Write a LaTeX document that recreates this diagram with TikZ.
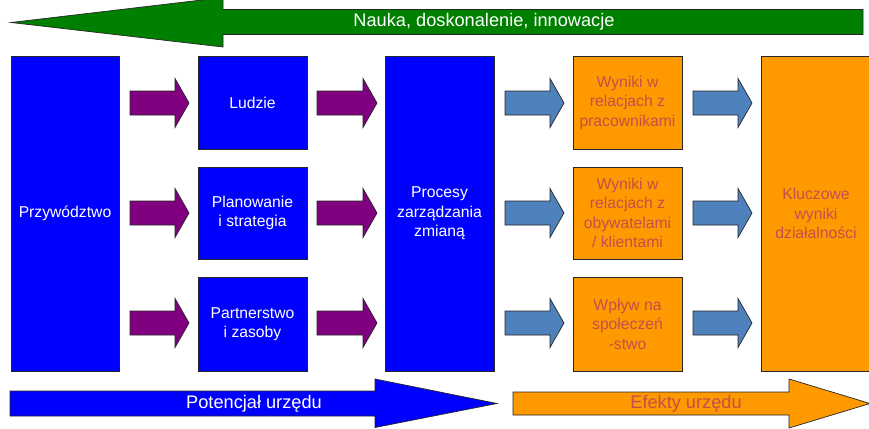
\documentclass[tikz,border=0pt]{standalone}
\usepackage{fontspec}
\setmainfont{Liberation Sans}
\definecolor{cblue}{RGB}{0,0,255}
\definecolor{cpurple}{RGB}{128,0,128}
\definecolor{csteel}{RGB}{79,129,189}
\definecolor{corange}{RGB}{255,153,0}
\definecolor{cgreen}{RGB}{0,128,0}
\definecolor{ctext}{RGB}{192,80,77}
\tikzset{
  bluebox/.style={draw=black!85, line width=0.8pt, fill=cblue, text=white, align=center, inner sep=0pt,
    font=\fontsize{15.7}{19.5}\selectfont},
  orangebox/.style={draw=black!85, line width=0.8pt, fill=corange, text=ctext, align=center, inner sep=0pt,
    font=\fontsize{15.7}{19.5}\selectfont},
  barlabel/.style={inner sep=0pt, font=\fontsize{18.2}{20}\selectfont},
  fat/.style={draw=black!85, line width=0.7pt, line join=miter},
}
% fat arrow: style, x start, x end, y centre
\newcommand\fatarrow[4]{%
  \draw[fat,#1] (#2,#4-12) -- (#3-14,#4-12) -- (#3-14,#4-24.5) -- (#3,#4) --
    (#3-14,#4+24.5) -- (#3-14,#4+12) -- (#2,#4+12) -- cycle;}
\begin{document}
\begin{tikzpicture}[x=1pt,y=-1pt]
\useasboundingbox (0,0) rectangle (869,428);
\clip (0,0) rectangle (869,428);
\fill[white] (0,0) rectangle (869,428);

% top green arrow
\draw[fat, fill=cgreen] (863,9.5) -- (223,9.5) -- (223,-2.5) -- (11,22.5) -- (223,47) -- (223,34.5) -- (863,34.5) -- cycle;
\node[barlabel, text=white] (nauka) at (484,22) {Nauka, doskonalenie, innowacje};

% boxes
\node[bluebox, minimum width=108pt, minimum height=315pt] (przyw) at (65,213.5) {Przywództwo};
\node[bluebox, minimum width=109pt, minimum height=93pt] (ludzie) at (252.5,102.5) {Ludzie};
\node[bluebox, minimum width=109pt, minimum height=92pt] (plan) at (252.5,213) {Planowanie\\i strategia};
\node[bluebox, minimum width=109pt, minimum height=94pt] (partner) at (252.5,324) {Partnerstwo\\i zasoby};
\node[bluebox, minimum width=109pt, minimum height=315pt] (procesy) at (439.5,213.5) {Procesy\\zarządzania\\zmianą};
\node[orangebox, minimum width=109pt, minimum height=93pt] (wyn1) at (627.5,102.5) {Wyniki w\\relacjach z\\pracownikami};
\node[orangebox, minimum width=109pt, minimum height=92pt] (wyn2) at (627.5,213) {Wyniki w\\relacjach z\\obywatelami\\/ klientami};
\node[orangebox, minimum width=109pt, minimum height=94pt] (wplyw) at (627.5,324) {Wpływ na\\społeczeń\\-stwo};
\node[orangebox, minimum width=110pt, minimum height=315pt] (klucz) at (816,213.5) {Kluczowe\\wyniki\\działalności};

% purple arrows
\fatarrow{fill=cpurple}{130}{189}{103}
\fatarrow{fill=cpurple}{130}{189}{213}
\fatarrow{fill=cpurple}{130}{189}{323}
\fatarrow{fill=cpurple}{317}{377}{103}
\fatarrow{fill=cpurple}{317}{377}{213}
\fatarrow{fill=cpurple}{317}{377}{323}
% steel blue arrows
\fatarrow{fill=csteel}{505}{564}{103}
\fatarrow{fill=csteel}{505}{564}{213}
\fatarrow{fill=csteel}{505}{564}{323}
\fatarrow{fill=csteel}{693}{752}{103}
\fatarrow{fill=csteel}{693}{752}{213}
\fatarrow{fill=csteel}{693}{752}{323}

% bottom arrows
\draw[fat, fill=cblue] (10,391) -- (375,391) -- (375,379) -- (497,403.5) -- (375,427.5) -- (375,416) -- (10,416) -- cycle;
\node[barlabel, text=white] (potencjal) at (254,403.5) {Potencjał urzędu};
\draw[fat, fill=corange] (513,392) -- (789,392) -- (789,379) -- (870,403.5) -- (789,428) -- (789,415) -- (513,415) -- cycle;
\node[barlabel, text=ctext] (efekty) at (686,403.5) {Efekty urzędu};
\end{tikzpicture}
\end{document}
